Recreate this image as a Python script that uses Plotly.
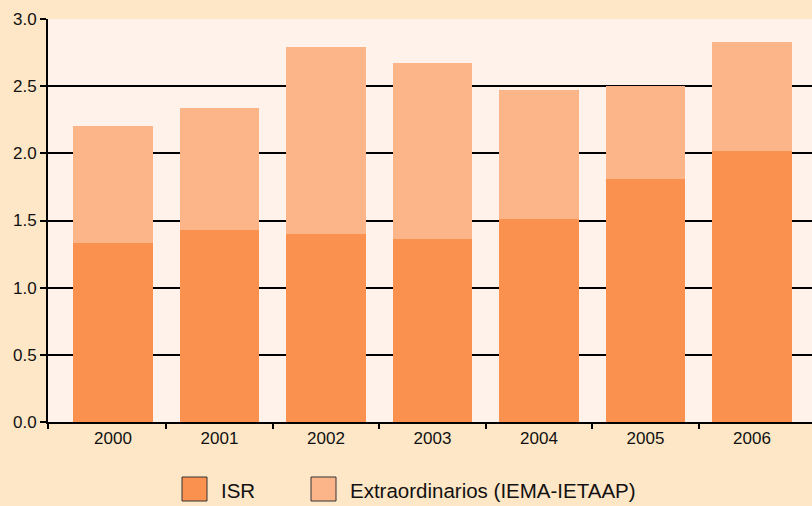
import plotly.graph_objects as go

years = ["2000", "2001", "2002", "2003", "2004", "2005", "2006"]
isr = [1.33, 1.43, 1.40, 1.36, 1.51, 1.81, 2.02]
extra = [0.87, 0.91, 1.39, 1.31, 0.96, 0.69, 0.81]
y_ticks = [0.0, 0.5, 1.0, 1.5, 2.0, 2.5, 3.0]
y_labels = ["0.0", "0.5", "1.0", "1.5", "2.0", "2.5", "3.0"]
legend_names = ["ISR", "Extraordinarios (IEMA-IETAAP)"]

c_isr = "#FB914E"
c_extra = "#FCB589"
paper = "#FEE7C6"
plotbg = "#FFF2EA"
font = "Arial"

xpos = list(range(len(years)))

fig = go.Figure()
fig.add_trace(go.Bar(x=xpos, y=isr, name=legend_names[0], marker_color=c_isr,
                     marker_line_width=0, width=0.75, showlegend=False))
fig.add_trace(go.Bar(x=xpos, y=extra, name=legend_names[1], marker_color=c_extra,
                     marker_line_width=0, width=0.75, showlegend=False))

x_lo, x_hi = -0.61, 6.564

fig.update_layout(
    barmode="stack",
    width=812, height=506,
    margin=dict(l=48, r=0, t=19, b=84),
    paper_bgcolor=paper,
    plot_bgcolor=plotbg,
    font=dict(family=font, color="#111111"),
    xaxis=dict(
        range=[x_lo, x_hi],
        tickmode="array", tickvals=xpos, ticktext=years,
        ticks="", showgrid=False, zeroline=False,
        showline=True, linecolor="black", linewidth=2,
        tickfont=dict(size=17, family=font),
        minor=dict(tickmode="array", tickvals=[x_lo] + [i + 0.5 for i in range(6)],
                   ticks="outside", ticklen=5, tickwidth=2, tickcolor="black", showgrid=False),
    ),
    yaxis=dict(
        range=[0, 3.0],
        tickmode="array", tickvals=y_ticks, ticktext=y_labels,
        ticks="outside", ticklen=6, tickwidth=2, tickcolor="black",
        showgrid=True, gridcolor="black", gridwidth=2,
        zeroline=False,
        showline=True, linecolor="black", linewidth=2,
        tickfont=dict(size=17, family=font),
    ),
)

# Manual legend (layout decoration)
legend_items = [(legend_names[0], c_isr, 182, 219), (legend_names[1], c_extra, 311, 348)]
for name, col, sx, tx in legend_items:
    fig.add_shape(type="rect", xref="paper", yref="paper",
                  x0=(sx - 48) / 764, x1=(sx + 25 - 48) / 764,
                  y0=(422 - 501) / 403, y1=(422 - 477) / 403,
                  fillcolor=col, line=dict(color="#333333", width=1))
    fig.add_annotation(text=name, xref="paper", yref="paper",
                       x=(tx - 48) / 764, y=(422 - 490) / 403,
                       xanchor="left", yanchor="middle", showarrow=False,
                       font=dict(size=20.5, family=font, color="#111111"))

fig.write_html("out.html", config={"displayModeBar": False},
               post_script="document.body.style.margin='0';document.body.style.padding='0';")
